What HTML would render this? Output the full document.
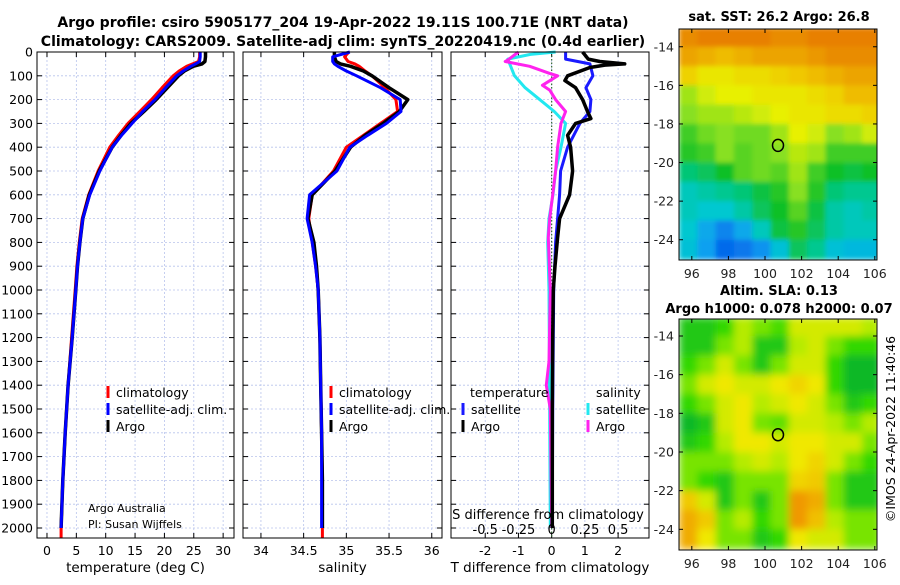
<!DOCTYPE html>
<html><head><meta charset="utf-8"><style>
html,body{margin:0;padding:0;background:#fff;}
svg text{font-family:"DejaVu Sans","Liberation Sans",sans-serif;}
</style></head><body>
<svg id="chart" width="900" height="580" viewBox="0 0 900 580" xmlns="http://www.w3.org/2000/svg">
<text x="343" y="27" text-anchor="middle" font-size="14" font-weight="bold">Argo profile: csiro 5905177_204 19-Apr-2022 19.11S 100.71E (NRT data)</text>
<text x="343" y="46" text-anchor="middle" font-size="14" font-weight="bold">Climatology: CARS2009. Satellite-adj clim: synTS_20220419.nc (0.4d earlier)</text>
<g id="g"></g>
</svg>
<script>
// ---------- profile data ----------
const depthT = [0,20,40,50,60,80,100,150,200,250,300,350,400,500,600,700,800,900,1000,1200,1400,1600,1800,2000,2040];
const tempClim = [26.0,26.0,25.8,24.8,23.8,22.5,21.5,19.6,17.8,15.8,13.8,12.2,10.7,8.7,7.1,6.0,5.5,5.1,4.8,4.2,3.6,3.1,2.7,2.4,2.4];
const tempSat = [26.1,26.1,26.0,25.3,24.5,23.2,22.1,20.2,18.4,16.3,14.5,12.7,11.1,9.0,7.3,6.1,5.6,5.2,4.9,4.3,3.6,3.1,2.7,2.4];
const tempArgo = [27.0,27.0,26.9,26.4,24.9,23.4,22.4,20.5,18.6,16.5,14.3,12.6,11.1,8.9,7.2,6.1,5.6,5.2,4.9,4.3,3.6,3.1,2.7,2.4];
const salClim = [35.03,34.98,35.02,35.1,35.15,35.22,35.3,35.45,35.58,35.6,35.4,35.2,35.0,34.85,34.6,34.56,34.6,34.64,34.67,34.69,34.7,34.71,34.72,34.72,34.72];
const salSat = [35.04,34.84,34.84,34.86,34.9,35.0,35.12,35.4,35.63,35.64,35.47,35.25,35.04,34.89,34.57,34.54,34.6,34.64,34.67,34.69,34.70,34.71,34.71,34.71];
const salArgo = [34.86,34.86,34.88,34.93,35.05,35.2,35.3,35.5,35.72,35.62,35.43,35.22,35.05,34.87,34.6,34.55,34.62,34.65,34.67,34.69,34.7,34.71,34.72,34.72];
const depthTdArgo = [0,30,40,50,55,65,100,120,150,200,250,280,300,350,400,500,600,700,780,900,1000,1200,1500,2000];
const tdiffArgo = [0.93,1.1,1.45,2.2,1.6,1.15,0.48,0.4,0.72,0.93,1.08,1.18,0.72,0.48,0.57,0.63,0.54,0.24,0.18,0.1,0.05,0.03,0.02,0.02];
const depthTdSat = [0,30,50,100,150,200,250,300,400,500,600,700,800,1000,1500,2000];
const tdiffSat = [0.42,0.42,1.15,1.24,1.03,1.18,1.15,0.85,0.48,0.27,0.24,0.18,0.12,0.06,0.03,0.02];
const depthSdArgo = [0,30,40,60,90,100,140,160,200,250,300,400,500,600,700,780,1000,1300,1400,1500,2000];
const sdiffArgo = [-0.25,-0.32,-0.35,-0.165,-0.015,0.045,-0.07,-0.015,0.03,0.105,0.07,0.045,0.03,0.008,-0.015,-0.025,-0.01,-0.02,-0.04,-0.01,0.0];
const depthSdSat = [0,10,30,100,150,200,250,300,400,500,600,700,800,1000,2000];
const sdiffSat = [0.03,-0.16,-0.33,-0.28,-0.2,-0.09,0.02,0.105,0.07,0.03,0.01,-0.02,-0.03,-0.02,-0.01];
const depthTicks = [0,100,200,300,400,500,600,700,800,900,1000,1100,1200,1300,1400,1500,1600,1700,1800,1900,2000];
const tempTicks = [0,5,10,15,20,25,30];
const salTicks = [34,34.5,35,35.5,36];
const salTickLabels = ["34","34.5","35","35.5","36"];
const tdTicks = [-2,-1,0,1,2];
const sdTicks = [-0.5,-0.25,0,0.25,0.5];
const sdTickLabels = ["-0.5","-0.25","0","0.25","0.5"];
// ---------- map data ----------
const mapLons = [95.8,96.8,97.8,98.8,99.8,100.8,101.8,102.8,103.8,104.8,105.8];
const mapLats = [-13.5,-14.5,-15.5,-16.5,-17.5,-18.5,-19.5,-20.5,-21.5,-22.5,-23.5,-24.5];
const sstGrid = [
[27.2,27.3,27.4,27.4,27.3,27.2,27.2,27.3,27.4,27.4,27.3],
[27.0,26.9,26.8,26.9,27.0,27.0,27.0,27.1,27.2,27.2,27.2],
[26.6,26.4,26.4,26.5,26.5,26.6,26.7,26.8,26.9,27.0,27.0],
[26.0,26.2,26.3,26.3,26.4,26.4,26.4,26.5,26.6,26.8,26.8],
[25.9,26.0,26.0,26.1,26.2,26.3,26.4,26.4,26.5,26.5,26.6],
[25.6,25.8,25.9,25.8,25.8,26.0,26.3,26.2,25.9,26.0,26.2],
[25.5,25.6,25.9,25.7,25.8,25.9,26.1,26.0,25.6,25.6,25.6],
[25.1,25.2,25.4,25.7,25.8,25.7,26.0,25.6,25.4,25.3,25.4],
[24.8,24.9,25.0,25.1,25.3,25.5,25.9,25.5,25.1,25.0,25.0],
[24.8,24.7,24.7,24.9,25.2,25.4,25.7,25.3,24.9,24.8,24.9],
[24.7,24.3,24.0,24.3,24.8,25.3,25.5,25.2,24.9,24.8,24.8],
[24.6,24.2,23.8,23.9,24.1,24.6,25.2,25.0,24.6,24.5,24.5]];
const slaGrid = [
[0.0,0.0,0.02,0.08,0.05,0.03,0.1,0.1,0.1,0.1,0.08],
[0.0,0.0,0.05,0.08,0.0,0.0,0.08,0.1,0.05,0.02,0.02],
[0.02,0.05,0.1,0.05,0.0,0.05,0.1,0.1,0.02,-0.02,-0.02],
[0.05,0.1,0.12,0.1,0.1,0.12,0.14,0.12,0.02,-0.02,-0.02],
[0.02,0.05,0.1,0.12,0.08,0.1,0.12,0.1,0.05,0.0,0.02],
[-0.02,0.0,0.1,0.12,0.05,0.04,0.1,0.1,0.08,0.05,0.08],
[0.0,0.02,0.08,0.12,0.12,0.1,0.12,0.12,0.1,0.1,0.05],
[0.05,0.05,0.05,0.08,0.1,0.08,0.12,0.14,0.1,0.05,0.02],
[0.05,0.02,0.0,0.05,0.05,0.05,0.14,0.15,0.05,0.0,0.0],
[0.15,0.1,0.0,0.05,0.0,0.05,0.2,0.18,0.05,0.0,0.0],
[0.18,0.15,0.05,0.08,0.02,0.05,0.2,0.16,0.08,0.05,0.05],
[0.18,0.12,0.05,0.05,0.0,0.02,0.12,0.1,0.1,0.05,0.05]];
const floatLon = 100.71, floatLat = -19.11;
const mapLonTicks = [96,98,100,102,104,106];
const mapLatTicks = [-14,-16,-18,-20,-22,-24];

const NS="http://www.w3.org/2000/svg";
const G=document.getElementById('g');
function mk(tag,attrs,parent,txt){const e=document.createElementNS(NS,tag);for(const k in attrs)e.setAttribute(k,attrs[k]);if(txt!==undefined)e.textContent=txt;(parent||G).appendChild(e);return e;}

const TOP=52, BOT=538;
const yD = d => TOP + d*0.238;
function panel(name,x0,x1,vmin,vmax){
  const sx=v=>x0+(v-vmin)/(vmax-vmin)*(x1-x0);
  return {name,x0,x1,sx};
}
const P1=panel('temperature',37,234,-1.7,31.85);
const P2=panel('salinity',243,442,33.79,36.12);
const P3=panel('difference',451,649,-3.03,2.93);

function frame(P,ticks,labels,showDepth){
  const g=mk('g',{});  
  ticks.forEach(t=>{mk('line',{x1:P.sx(t),x2:P.sx(t),y1:TOP,y2:BOT,stroke:'#b8c4ec','stroke-width':0.8,'stroke-dasharray':'2,2'},g);});
  depthTicks.forEach(d=>{mk('line',{x1:P.x0,x2:P.x1,y1:yD(d),y2:yD(d),stroke:'#b8c4ec','stroke-width':0.8,'stroke-dasharray':'2,2'},g);
    mk('line',{x1:P.x0,x2:P.x0+5,y1:yD(d),y2:yD(d),stroke:'#000'},g);
    mk('line',{x1:P.x1-5,x2:P.x1,y1:yD(d),y2:yD(d),stroke:'#000'},g);
    if(showDepth){const t=mk('text',{x:P.x0-4,y:yD(d)+4.5,'text-anchor':'end','font-size':12.5},g,String(d));}
  });
  ticks.forEach((t,i)=>{mk('line',{x1:P.sx(t),x2:P.sx(t),y1:TOP,y2:TOP+5,stroke:'#000'},g);mk('line',{x1:P.sx(t),x2:P.sx(t),y1:BOT-5,y2:BOT,stroke:'#000'},g);
    if(labels){const tx=mk('text',{x:P.sx(t),y:BOT+17,'text-anchor':'middle','font-size':12.5},g,labels[i]);}});
  return g;
}
function line(P,vals,depths,color,w,name){
  const n=Math.min(vals.length,depths.length);
  let d='';for(let i=0;i<n;i++){d+=(i?'L':'M')+P.sx(vals[i]).toFixed(1)+','+yD(depths[i]).toFixed(1);}
  const p=mk('path',{d,fill:'none',stroke:color,'stroke-width':w,'stroke-linejoin':'round'});
  
  
  return p;
}
function border(P){mk('rect',{x:P.x0,y:TOP,width:P.x1-P.x0,height:BOT-TOP,fill:'none',stroke:'#000','stroke-width':1});}

// Panel 1
frame(P1,tempTicks,tempTicks.map(String),true);
line(P1,tempClim,depthT,'#ff0000',3,'temperature-climatology-line');
line(P1,tempArgo,depthT,'#000000',3.5,'temperature-argo-line');
line(P1,tempSat,depthT,'#0000ff',3,'temperature-satellite-line');
border(P1);
// Panel 2
frame(P2,salTicks,salTickLabels,false);
line(P2,salClim,depthT,'#ff0000',3,'salinity-climatology-line');
line(P2,salArgo,depthT,'#000000',3.5,'salinity-argo-line');
line(P2,salSat,depthT,'#0000ff',3,'salinity-satellite-line');
border(P2);
// Panel 3
frame(P3,tdTicks,tdTicks.map(String),false);
mk('line',{x1:P3.sx(0),x2:P3.sx(0),y1:TOP,y2:BOT,stroke:'#336633','stroke-width':1.2,'stroke-dasharray':'1.5,2'});
const sdX = v => v*4; // S difference axis: ±0.5 maps onto T ±2
line(P3,sdiffSat.map(sdX),depthSdSat,'#22e8f0',3,'salinity-diff-satellite-line');
line(P3,sdiffArgo.map(sdX),depthSdArgo,'#ff22ee',3,'salinity-diff-argo-line');
line(P3,tdiffSat,depthTdSat,'#1a1aff',3,'temperature-diff-satellite-line');
line(P3,tdiffArgo,depthTdArgo,'#000000',3.5,'temperature-diff-argo-line');
border(P3);
sdTicks.forEach((t,i)=>{const tx=mk('text',{x:P3.sx(sdX(t)),y:534,'text-anchor':'middle','font-size':13},G,sdTickLabels[i]);});
const sdt=mk('text',{x:548,y:519,'text-anchor':'middle','font-size':13},G,'S difference from climatology');


// axis titles
[[P1,'temperature (deg C)','x-axis-title-temperature'],[P2,'salinity','x-axis-title-salinity'],[P3,'T difference from climatology','x-axis-title-t-difference']].forEach(([P,t,n])=>{
  const e=mk('text',{x:(P.x0+P.x1)/2,y:572,'text-anchor':'middle','font-size':13.5},G,t);});

// legends
function legendEntry(x,y,color,label,name){
  const g=mk('g',{});
  mk('line',{x1:x,x2:x,y1:y-11,y2:y+1,stroke:color,'stroke-width':3},g);
  mk('text',{x:x+8,y:y,'font-size':12.5},g,label);
}
legendEntry(108,397,'#ff0000','climatology','legend-climatology');
legendEntry(108,414,'#0000ff','satellite-adj. clim.','legend-satellite-adj');
legendEntry(108,431,'#000000','Argo','legend-argo');
legendEntry(331,397,'#ff0000','climatology','legend-sal-climatology');
legendEntry(331,414,'#0000ff','satellite-adj. clim.','legend-sal-satellite-adj');
legendEntry(331,431,'#000000','Argo','legend-sal-argo');
const lt=mk('text',{x:470,y:397,'font-size':12.5},G,'temperature');
const ls=mk('text',{x:596,y:397,'font-size':12.5},G,'salinity');
legendEntry(463,414,'#1a1aff','satellite','legend-tdiff-satellite');
legendEntry(463,431,'#000000','Argo','legend-tdiff-argo');
legendEntry(588,414,'#22e8f0','satellite','legend-sdiff-satellite');
legendEntry(588,431,'#ff22ee','Argo','legend-sdiff-argo');
const a1=mk('text',{x:88,y:512,'font-size':11},G,'Argo Australia');
const a2=mk('text',{x:88,y:528,'font-size':11},G,'PI: Susan Wijffels');

// ---------- maps ----------
function lerpColor(stops,v){
  if(v<=stops[0][0])return stops[0][1];
  for(let i=1;i<stops.length;i++){if(v<=stops[i][0]){const [a,ca]=stops[i-1],[b,cb]=stops[i];const t=(v-a)/(b-a);
    const p=c=>[parseInt(c.slice(1,3),16),parseInt(c.slice(3,5),16),parseInt(c.slice(5,7),16)];const A=p(ca),B=p(cb);
    return 'rgb('+A.map((x,k)=>Math.round(x+(B[k]-x)*t)).join(',')+')';}}
  return stops[stops.length-1][1];
}
const sstStops=[[23.6,'#0050e8'],[24.2,'#10a0f0'],[24.7,'#00c8d0'],[25.0,'#00c890'],[25.4,'#10c028'],[25.9,'#88e020'],[26.3,'#e8f000'],[26.7,'#f0c800'],[27.3,'#e88000']];
const slaStops=[[-0.02,'#10b828'],[0.02,'#30d800'],[0.07,'#a8ec00'],[0.12,'#f0e800'],[0.2,'#f09800']];
function drawMap(name,y0,y1,latTop,latBot,grid,stops,title1,title2,blur){
  const X0=679,X1=877,lonMin=95.3,lonMax=106.12;
  const sx=l=>X0+(l-lonMin)/(lonMax-lonMin)*(X1-X0);
  const sy=la=>y0+(latTop-la)/(latTop-latBot)*(y1-y0);
  const g=mk('g',{});
  const cid=name+'-clip';const cp=mk('clipPath',{id:cid},g);mk('rect',{x:X0,y:y0,width:X1-X0,height:y1-y0},cp);
  if(blur){const f=mk('filter',{id:name+'-blur',x:'-5%',y:'-5%',width:'110%',height:'110%'},g);mk('feGaussianBlur',{stdDeviation:blur},f);}
  const cells=mk('g',{'clip-path':'url(#'+cid+')'},g);
  const inner=mk('g',blur?{filter:'url(#'+name+'-blur)'}:{},cells);
  mapLats.forEach((la,r)=>mapLons.forEach((lo,c)=>{
    const x=sx(lo-0.5),y=sy(la+0.5),w=sx(lo+0.5)-x,h=sy(la-0.5)-y;
    const rc=mk('rect',{x:x.toFixed(1),y:y.toFixed(1),width:(w+0.8).toFixed(1),height:(h+0.8).toFixed(1),fill:lerpColor(stops,grid[r][c])},inner);
    
    
  }));
  mk('rect',{x:X0,y:y0,width:X1-X0,height:y1-y0,fill:'none',stroke:'#000'},g);
  mapLonTicks.forEach(l=>{mk('line',{x1:sx(l),x2:sx(l),y1:y1,y2:y1-4,stroke:'#000'},g);mk('line',{x1:sx(l),x2:sx(l),y1:y0,y2:y0+4,stroke:'#000'},g);
    mk('text',{x:sx(l),y:y1+18,'text-anchor':'middle','font-size':12.5,fill:'#222'},g,String(l));});
  mapLatTicks.forEach(l=>{mk('line',{x1:X0,x2:X0+4,y1:sy(l),y2:sy(l),stroke:'#000'},g);mk('line',{x1:X1,x2:X1-4,y1:sy(l),y2:sy(l),stroke:'#000'},g);
    mk('text',{x:X0-5,y:sy(l)+4.5,'text-anchor':'end','font-size':12.5,fill:'#222'},g,String(l));});
  const m=mk('ellipse',{cx:sx(floatLon),cy:sy(floatLat),rx:5.5,ry:6,fill:'none',stroke:'#000','stroke-width':1.5},g);
  
  const t1=mk('text',{x:779,y:title2?y0-24:y0-8,'text-anchor':'middle','font-size':13,'font-weight':'bold'},G,title1);
  
  if(title2){const t2=mk('text',{x:779,y:y0-6,'text-anchor':'middle','font-size':13,'font-weight':'bold'},G,title2);}
}
drawMap('sst-map',29,260,-13.08,-25.05,sstGrid,sstStops,'sat. SST: 26.2 Argo: 26.8',null,2.5);
drawMap('sla-map',319,550,-13.12,-25.07,slaGrid,slaStops,'Altim. SLA: 0.13','Argo h1000: 0.078 h2000: 0.07',4);
const ts=mk('text',{x:0,y:0,'text-anchor':'middle','font-size':12.5,transform:'translate(895,429) rotate(-90)'},G,'©IMOS 24-Apr-2022 11:40:46');

</script>
</body></html>
